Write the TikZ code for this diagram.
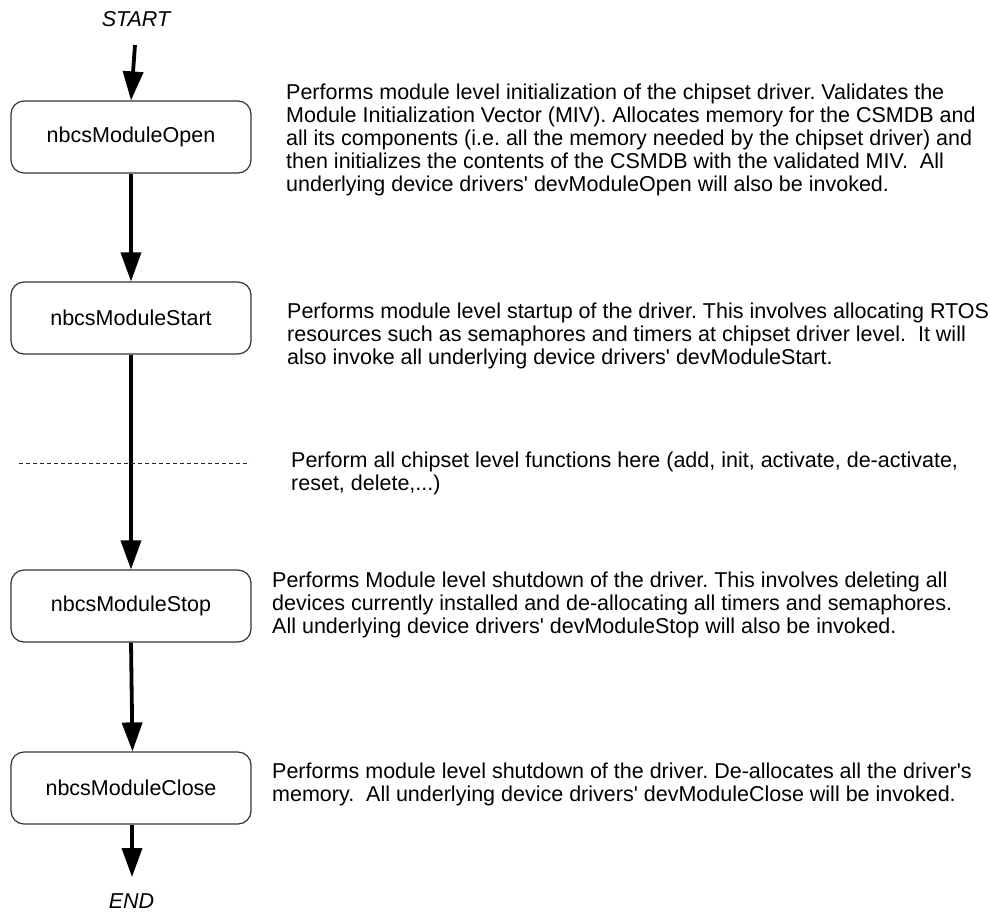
\documentclass[tikz,border=0pt]{standalone}
\usepackage{fontspec}
\setmainfont{Liberation Sans}
\usetikzlibrary{arrows.meta}
\frenchspacing
\newcommand{\apos}{\textquotesingle}
\begin{document}
\begin{tikzpicture}[x=1pt,y=-1pt,
  txt/.style={font=\fontsize{21.5}{23}\selectfont},
  stage/.style={txt, draw=black!80, line width=1.2pt, rounded corners=13pt,
    minimum width=240pt, minimum height=72pt, inner sep=0pt},
  note/.style={txt, anchor=west, align=left, inner sep=0pt},
  term/.style={font=\fontsize{21.5}{23}\selectfont\itshape, inner sep=0pt},
  flow/.style={line width=3.8pt, -{Triangle[length=29pt,width=20pt]}},
  split/.style={draw=black!85, line width=0.9pt, dash pattern=on 4pt off 3pt}]
\useasboundingbox (0,0) rectangle (990,911);

% terminals
\node[term] (start) at (136,19) {START};
\node[term] (finish) at (131.5,901) {END};

% stages of the driver life cycle
\node[stage] (open)  at (131,137) {nbcsModuleOpen};
\node[stage] (begin) at (131,318) {nbcsModuleStart};
\node[stage] (stop)  at (131,606) {nbcsModuleStop};
\node[stage] (close) at (131,788) {nbcsModuleClose};

% connector end points
\coordinate (starttail) at (135,45);
\coordinate (endtip) at (132,877);
\coordinate (splitL) at (19,463);
\coordinate (splitR) at (250,463);

% flow arrows
\draw[flow] (starttail) -- (open.north);
\draw[flow] (open.south) -- (begin.north);
\draw[flow] (begin.south) -- (stop.north);
\draw[flow] (stop.south) -- ([xshift=1.5pt]close.north);
\draw[flow] ([xshift=1pt]close.south) -- (endtip);

% boundary of the chipset level functions
\draw[split] (splitL) -- (splitR);

% descriptions
\node[note] (dopen) at (286,140) {Performs module level initialization of the chipset driver. Validates the\\
Module Initialization Vector (MIV). Allocates memory for the CSMDB and\\
all its components (i.e. all the memory needed by the chipset driver) and\\
then initializes the contents of the CSMDB with the validated MIV.\ \ All\\
underlying device drivers\apos{} devModuleOpen will also be invoked.};

\node[note] (dbegin) at (287,336) {Performs module level startup of the driver. This involves allocating RTOS\\
resources such as semaphores and timers at chipset driver level.\ \ It will\\
also invoke all underlying device drivers\apos{} devModuleStart.};

\node[note] (dsplit) at (291,473) {Perform all chipset level functions here (add, init, activate, de-activate,\\
reset, delete,...)};

\node[note] (dstop) at (272,605) {Performs Module level shutdown of the driver. This involves deleting all\\
devices currently installed and de-allocating all timers and semaphores.\\
All underlying device drivers\apos{} devModuleStop will also be invoked.};

\node[note] (dclose) at (272,784) {Performs module level shutdown of the driver. De-allocates all the driver\apos{}s\\
memory.\ \ All underlying device drivers\apos{} devModuleClose will be invoked.};
\end{tikzpicture}
\end{document}
